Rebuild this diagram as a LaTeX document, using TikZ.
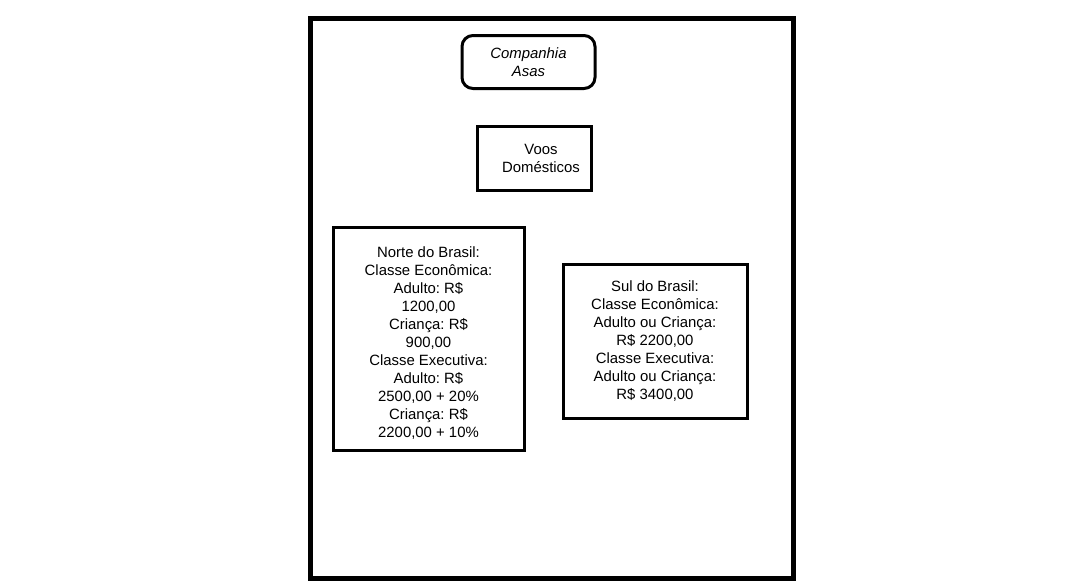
\documentclass[tikz,border=0pt]{standalone}
\usepackage{fontspec}
\setmainfont{Liberation Sans}
\frenchspacing
\begin{document}
\begin{tikzpicture}[x=1pt,y=-1pt,
  box/.style={draw=black,line width=3pt,fill=white,align=center,inner sep=0pt,
    font=\fontsize{14.9}{18}\selectfont},
]
\useasboundingbox (0,0) rectangle (1079,582);
\fill[white] (0,0) rectangle (1079,582);
\draw[line width=5pt] (310,18) rectangle (793,578);
\node[box,rounded corners=11pt,minimum width=133pt,minimum height=53pt,
  font=\fontsize{14.9}{18}\itshape\selectfont] (comp) at (528.5,62) {Companhia\\Asas};
\node[box,minimum width=114pt,minimum height=64pt] (voos) at (534,158) {\hspace*{14pt}Voos\\\hspace*{14pt}Domésticos};
\node[box,minimum width=191pt,minimum height=223pt] (norte) at (428.5,338.5)
  {\rule{0pt}{19pt}Norte do Brasil:\\Classe Econômica:\\Adulto: R\$\\1200,00\\Criança: R\$\\900,00\\Classe Executiva:\\Adulto: R\$\\2500,00 + 20\%\\Criança: R\$\\2200,00 + 10\%};
\node[box,minimum width=184pt,minimum height=154pt] (sul) at (655,341)
  {Sul do Brasil:\\Classe Econômica:\\Adulto ou Criança:\\R\$ 2200,00\\Classe Executiva:\\Adulto ou Criança:\\R\$ 3400,00};
\end{tikzpicture}
\end{document}
